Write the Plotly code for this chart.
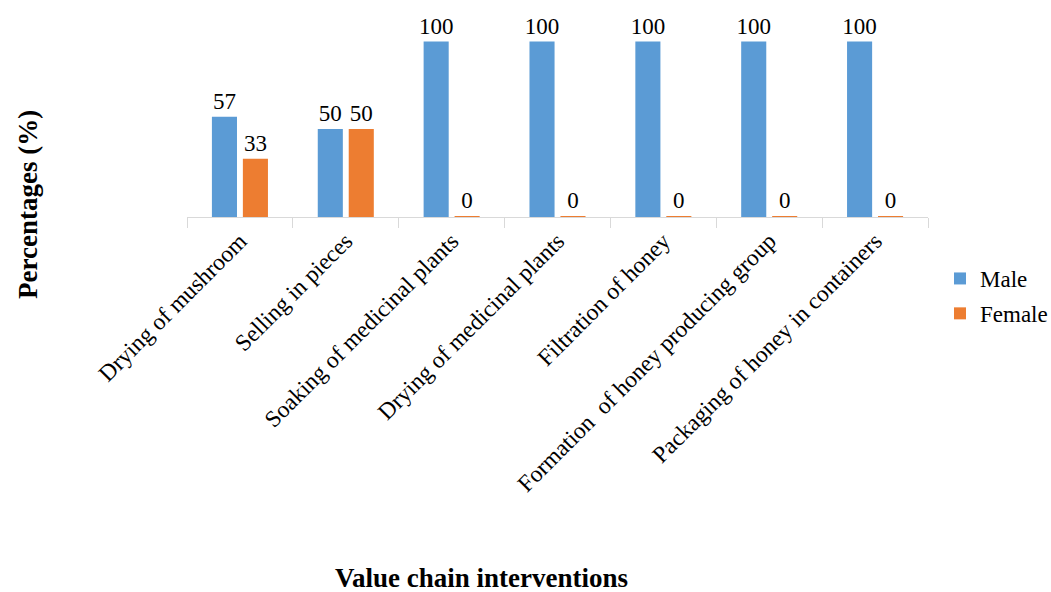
import plotly.graph_objects as go

categories = ["Drying of mushroom", "Selling in pieces", "Soaking of medicinal plants",
              "Drying of medicinal plants", "Filtration of honey",
              "Formation  of honey producing group", "Packaging of honey in containers"]
male = [57, 50, 100, 100, 100, 100, 100]
female = [33, 50, 0, 0, 0, 0, 0]

FONT = "Liberation Serif, Times New Roman, serif"
BASE = -0.4  # tiny visual base so zero bars show as a thin line

def trace(name, vals, color):
    return go.Bar(
        name=name, x=categories, y=[v - BASE for v in vals], base=BASE,
        legendgroup=name,
        marker=dict(color=color, line=dict(width=0)),
        text=[str(v) for v in vals], textposition="outside",
        constraintext="none",
        textfont=dict(family=FONT, size=23, color="#000000"),
        cliponaxis=False, hoverinfo="x+text",
    )

fig = go.Figure([trace("Male", male, "#5B9BD5"), trace("Female", female, "#ED7D31")])

fig.update_layout(
    width=1051, height=592,
    margin=dict(l=187, r=123, t=20, b=375, autoexpand=False),
    paper_bgcolor="white", plot_bgcolor="white",
    barmode="group", bargap=0.415, bargroupgap=0.19,
    font=dict(family=FONT, size=22, color="#000000"),
    legend=dict(xref="container", yref="container",
                x=940 / 1051, y=1 - 257 / 592, xanchor="left", yanchor="top",
                font=dict(family=FONT, size=23), tracegroupgap=2,
                bgcolor="rgba(0,0,0,0)"),
    xaxis=dict(showline=True, linecolor="#d9d9d9", linewidth=1,
               ticks="outside", tickson="boundaries", ticklen=10,
               tickcolor="#d9d9d9", tickangle=-45, layer="below traces",
               tickfont=dict(family=FONT, size=23.5, color="#000000"),
               showgrid=False, zeroline=False, automargin=False),
    yaxis=dict(visible=False, range=[BASE, 112.35]),
    annotations=[
        dict(text="<b>Value chain interventions</b>", xref="paper", yref="paper",
             x=(481 - 187) / 741, y=(217 - 578) / 197, showarrow=False,
             xanchor="center", yanchor="middle",
             font=dict(family=FONT, size=27, color="#000000")),
        dict(text="<b>Percentages (%)</b>", xref="paper", yref="paper",
             x=(28 - 187) / 741, y=(217 - 205) / 197, showarrow=False,
             textangle=-90, xanchor="center", yanchor="middle",
             font=dict(family=FONT, size=27, color="#000000")),
    ],
)

fig.write_html("out.html")
